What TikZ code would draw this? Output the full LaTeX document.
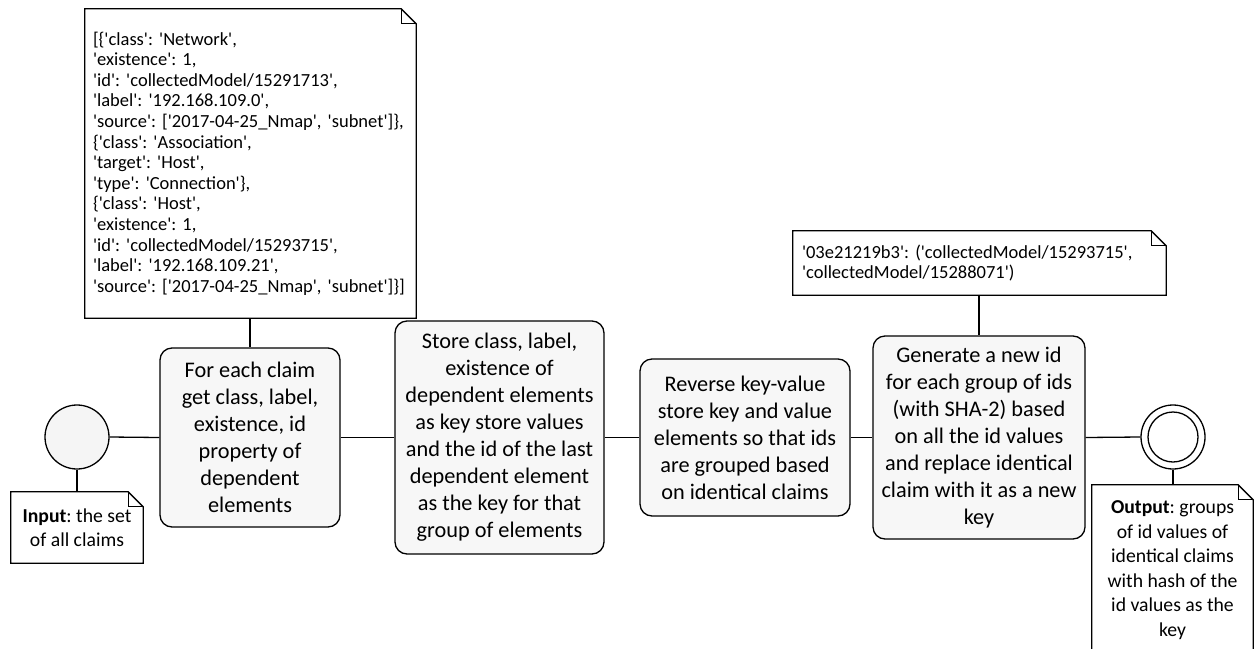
\documentclass[tikz,border=0pt]{standalone}
\usepackage{fontspec}
\setmainfont{Carlito}[Ligatures=TeXOff]
\usetikzlibrary{calc}
\tikzset{
  conn/.style={line width=1.3pt},
  act/.style={draw, conn, rounded corners=12pt, fill=black!3, align=center, inner sep=0pt, font=\fontsize{22.3}{27}\selectfont\frenchspacing},
  notebase/.style={fill=white, inner sep=0pt},
  codefont/.style={font=\fontsize{18.5}{20.6}\selectfont\frenchspacing},
  iofont/.style={font=\fontsize{19.7}{24.5}\selectfont\frenchspacing},
}
\newcommand\foldnote[1]{%
  \draw[conn] ($(#1.north east)+(-15pt,0pt)$) -- (#1.north west) -- (#1.south west) -- (#1.south east) -- ($(#1.north east)+(0pt,-15pt)$) -- cycle;
  \draw[conn] ($(#1.north east)+(-15pt,0pt)$) -- ($(#1.north east)+(-15pt,-15pt)$) -- ($(#1.north east)+(0pt,-15pt)$);}
\begin{document}
\begin{tikzpicture}[x=1pt,y=-1pt]
\useasboundingbox (0,0) rectangle (1255,648);
\clip (0,0) rectangle (1255,648);
% initial and final nodes
\node[circle, draw, conn, fill=black!4, minimum size=64pt, inner sep=0pt] (init) at (77,437) {};
\node[circle, draw, conn, fill=white, minimum size=64pt, inner sep=0pt] (fin) at (1173,437) {};
\node[circle, draw, conn, minimum size=50pt, inner sep=0pt] (finin) at (1173,437) {};
% actions
\node[act, minimum width=180pt, minimum height=179pt] (a1) at (250,437.5) {For each claim\\get class, label,\\existence, id\\property of\\dependent\\elements};
\node[act, minimum width=209pt, minimum height=233pt] (a2) at (499.5,437.5) {Store class, label,\\existence of\\dependent elements\\as key store values\\and the id of the last\\dependent element\\as the key for that\\group of elements};
\node[act, minimum width=210pt, minimum height=157pt] (a3) at (745,437.5) {Reverse key-value\\store key and value\\elements so that ids\\are grouped based\\on identical claims};
\node[act, minimum width=212pt, minimum height=203pt] (a4) at (979,437.5) {Generate a new id\\for each group of ids\\(with SHA-2) based\\on all the id values\\and replace identical\\claim with it as a new\\key};
% notes
\node[notebase, codefont, minimum width=331pt, minimum height=309pt, text width=315pt, align=left] (n1) at (250.5,163.5) {[\{'class': 'Network',\\'existence': 1,\\'id': 'collectedModel/15291713',\\'label': '192.168.109.0',\\'source': ['2017-04-25\_Nmap', 'subnet']\},\\\{'class': 'Association',\\'target': 'Host',\\'type': 'Connection'\},\\\{'class': 'Host',\\'existence': 1,\\'id': 'collectedModel/15293715',\\'label': '192.168.109.21',\\'source': ['2017-04-25\_Nmap', 'subnet']\}]};
\foldnote{n1}
\node[notebase, codefont, minimum width=373pt, minimum height=64pt, text width=355pt, align=left] (n2) at (979.5,263) {'03e21219b3': ('collectedModel/15293715',\\'collectedModel/15288071')};
\foldnote{n2}
\node[notebase, iofont, minimum width=132pt, minimum height=71pt, align=center] (in) at (77,527.5) {\textbf{Input}: the set\\of all claims};
\foldnote{in}
\node[notebase, iofont, minimum width=161pt, minimum height=170pt, align=center] (out) at (1172.5,570) {\textbf{Output}: groups\\of id values of\\identical claims\\with hash of the\\id values as the\\key};
\foldnote{out}
% connectors
\draw[conn] (init.east) -- (a1.west);
\draw[conn] (a1.east) -- (a2.west);
\draw[conn] (a2.east) -- (a3.west);
\draw[conn] (a3.east) -- (a4.west);
\draw[conn] (a4.east) -- (fin.west);
\draw[conn] (n1.south -| a1.north) -- (a1.north);
\draw[conn] (n2.south -| a4.north) -- (a4.north);
\draw[conn] (init.south) -- (init.south |- in.north);
\draw[conn] (fin.south) -- (fin.south |- out.north);
\end{tikzpicture}
\end{document}
